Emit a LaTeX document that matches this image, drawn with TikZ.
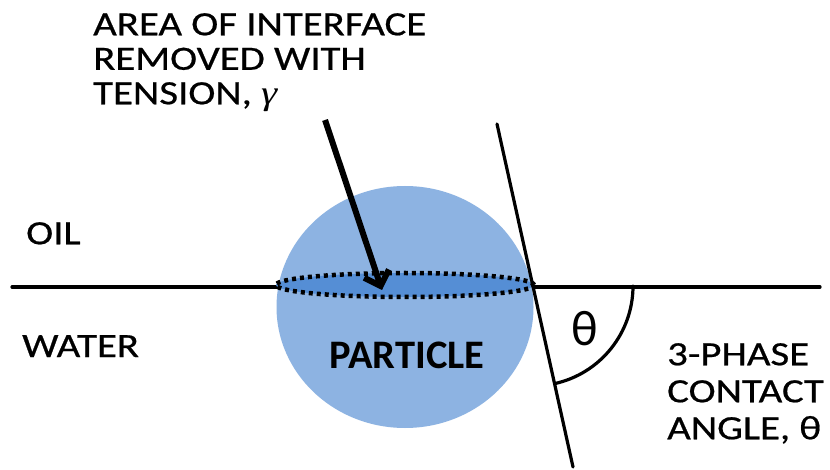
\documentclass[tikz,border=0pt]{standalone}
\usepackage{fontspec}
\setmainfont{Carlito}
\newfontfamily\widefont[FakeStretch=1.2,FakeBold=0.6]{Carlito}
\newfontfamily\gfont[FakeStretch=1.2]{Liberation Serif}
\usetikzlibrary{arrows.meta,calc,shapes.geometric}
\definecolor{partblue}{HTML}{8DB3E2}
\definecolor{diskblue}{HTML}{558ED5}
\begin{document}
\begin{tikzpicture}[x=1pt,y=-1pt,
  lbl/.style={font=\widefont\fontsize{34}{34.5}\selectfont, inner sep=0pt, align=left, anchor=north west},
  rlbl/.style={font=\widefont\fontsize{34}{37}\selectfont, inner sep=0pt, align=left, anchor=north west},
  ln/.style={line width=3.2pt, line cap=round}]
\useasboundingbox (0,0) rectangle (830,470);
\fill[white] (0,0) rectangle (830,470);
% interface line
\coordinate (L) at (12,287);
\coordinate (R) at (820,287);
\draw[ln] (L) -- (R);
% particle
\node (particle) [ellipse, fill=partblue, minimum width=257pt, minimum height=242pt, inner sep=0pt] at (405,307) {};
% removed disk
\node (disk) [ellipse, fill=diskblue, draw=black, line width=4.5pt, dash pattern=on 4pt off 4pt, minimum width=258pt, minimum height=24pt, inner sep=0pt] at (405,285) {};
\node (ptext) [font=\fontsize{40.5}{40}\selectfont\bfseries, inner sep=0pt, anchor=base] at (407,368) {PARTICLE};
% tangent line and angle
\coordinate (T1) at (497,124);
\coordinate (T2) at (573,467);
\coordinate (C) at (533,286);
\draw[ln] (T1) -- (T2);
\draw[ln] ($(C)+(100,0)$) arc[start angle=0, end angle=77.5, radius=100];
\node (theta) [font=\fontsize{50}{50}\selectfont, inner sep=0pt] at (585,329) {θ};
% labels
\node (area) [lbl] at (93,13) {AREA OF INTERFACE\\REMOVED WITH\\TENSION, {\gfont\itshape γ}};
\node (oil) [lbl] at (26,222) {OIL};
\node (water) [lbl] at (22,335) {WATER};
\node (cangle) [rlbl] at (667,343) {3-PHASE\\CONTACT\\ANGLE, θ};
% arrow
\coordinate (A1) at (325,120);
\coordinate (A2) at (382,290);
\draw[line width=6pt, -{Straight Barb[length=13pt, width=26pt]}] (A1) -- (A2);
\end{tikzpicture}
\end{document}
